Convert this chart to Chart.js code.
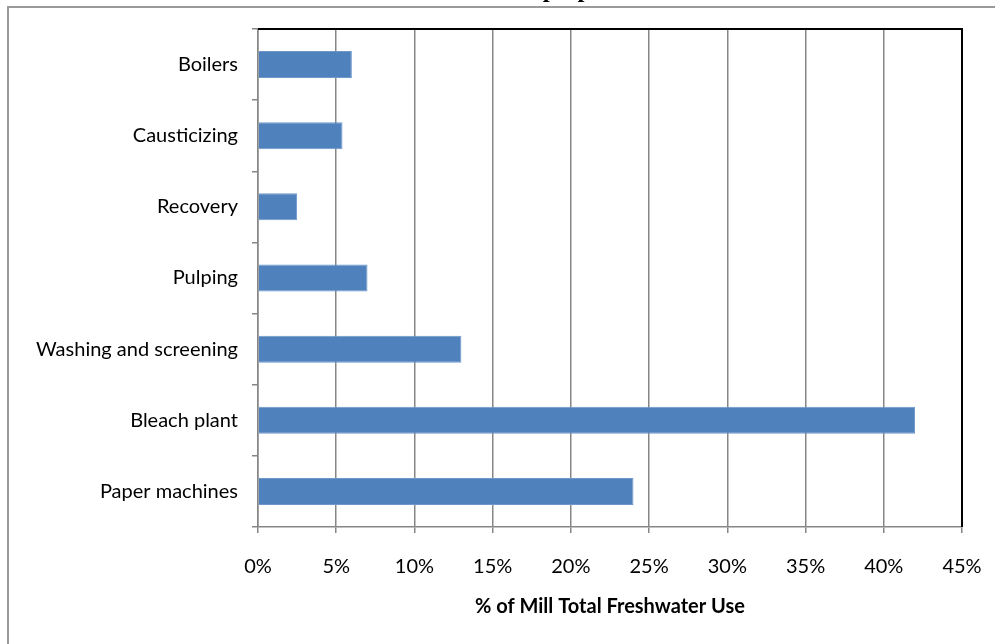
<!DOCTYPE html>
<html>
<head>
<meta charset="utf-8">
<script src="https://cdn.jsdelivr.net/npm/chart.js@4.4.1/dist/chart.umd.min.js"></script>
<style>
  html, body { margin: 0; padding: 0; background: #fff; }
  #wrap { position: relative; width: 995px; height: 644px; overflow: hidden; }
  #frame { position: absolute; left: 7px; top: 6px; width: 1000px; height: 700px;
           border-left: 2px solid #9a9a9a; border-top: 2px solid #9a9a9a; pointer-events: none; z-index: 2; }
  canvas { position: absolute; left: 0; top: 0; }
</style>
</head>
<body>
<div id="wrap">
  <canvas id="c" width="995" height="644"></canvas>
  <div id="frame"></div>
</div>
<script>
const chartTitle = "Water use in a kraft pulp mill";
const categories = ["Boilers", "Causticizing", "Recovery", "Pulping", "Washing and screening", "Bleach plant", "Paper machines"];
const shares = [6, 5.4, 2.5, 7, 13, 42, 24];
const xTicks = [0, 5, 10, 15, 20, 25, 30, 35, 40, 45];
const xAxisTitle = "% of Mill Total Freshwater Use";

const frameLines = {
  id: 'frameLines',
  afterDraw(chart) {
    const a = chart.chartArea, ctx = chart.ctx;
    ctx.save();
    ctx.strokeStyle = '#000';
    ctx.lineWidth = 2;
    ctx.beginPath();
    ctx.moveTo(a.left, a.top);
    ctx.lineTo(a.right, a.top);
    ctx.lineTo(a.right, a.bottom);
    ctx.stroke();
    ctx.restore();
  }
};

new Chart(document.getElementById('c'), {
  type: 'bar',
  data: {
    labels: categories,
    datasets: [{
      data: shares,
      backgroundColor: '#4F81BD',
      borderColor: '#6E98CC',
      borderWidth: 1,
      barPercentage: 0.38,
      categoryPercentage: 1
    }]
  },
  options: {
    indexAxis: 'y',
    responsive: false,
    animation: false,
    layout: { padding: { top: 0, right: 33, bottom: 0, left: 0 } },
    plugins: {
      legend: { display: false },
      tooltip: { enabled: false },
      title: {
        display: true,
        text: chartTitle,
        color: '#000',
        font: { family: "'Liberation Serif', 'DejaVu Serif', serif", size: 25, weight: 'bold' },
        padding: { top: -24, bottom: 23 }
      }
    },
    scales: {
      x: {
        min: 0, max: 45,
        afterBuildTicks(scale) { scale.ticks = xTicks.map(v => ({ value: v })); },
        afterFit(scale) { scale.height = 117; scale.paddingLeft = 0; scale.paddingRight = 0; },
        grid: { color: '#868686', lineWidth: 1.5, tickLength: 6, drawOnChartArea: true },
        border: { color: '#868686', width: 1.5 },
        ticks: {
          color: '#000',
          padding: 22,
          font: { family: 'Lato', size: 20 },
          callback: (v) => v + '%'
        },
        title: {
          display: true,
          text: xAxisTitle,
          color: '#000',
          font: { family: 'Lato', size: 20, weight: 'bold' },
          padding: { top: 0, bottom: 25 }
        }
      },
      y: {
        afterFit(scale) { scale.width = 258; scale.paddingTop = 0; scale.paddingBottom = 0; },
        grid: { offset: true, drawOnChartArea: false, color: '#868686', lineWidth: 1.5, tickLength: 6 },
        border: { color: '#868686', width: 1.5 },
        ticks: {
          color: '#000',
          padding: 14,
          font: { family: 'Lato', size: 20 }
        }
      }
    }
  },
  plugins: [frameLines]
});
</script>
</body>
</html>
